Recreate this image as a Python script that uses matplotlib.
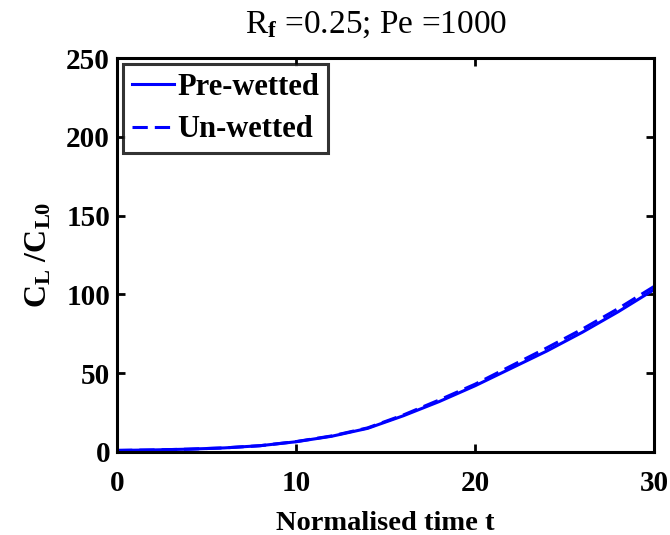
import matplotlib
matplotlib.use("Agg")
import matplotlib.pyplot as plt

plt.rcParams['font.family'] = ['Liberation Serif', 'DejaVu Serif']
plt.rcParams['mathtext.fontset'] = 'custom'
plt.rcParams['mathtext.rm'] = 'Liberation Serif'
plt.rcParams['mathtext.bf'] = 'Liberation Serif:bold'
plt.rcParams['mathtext.it'] = 'Liberation Serif:italic'

t = [0, 2, 4, 6, 8, 10, 12, 14, 16, 18, 20, 22, 24, 26, 28, 30]
pre_wetted = [1, 1.3, 1.8, 2.6, 4, 6.5, 10, 15, 23, 32, 42, 53, 64, 76, 89, 103]
un_wetted = [1, 1.3, 1.8, 2.6, 4, 6.6, 10.2, 15.3, 23.5, 33, 43, 54.5, 66, 78, 91, 105]

xticks = [0, 10, 20, 30]
yticks = [0, 50, 100, 150, 200, 250]

fig = plt.figure(figsize=(6.7, 5.35), dpi=100)
ax = fig.add_axes([117 / 670, 1 - 452 / 535, (654 - 117) / 670, (452 - 58) / 535])

ax.plot(t, pre_wetted, color='#0000ff', lw=2.2, ls='-', label='Pre-wetted')
ax.plot(t, un_wetted, color='#0000ff', lw=2.2, ls=(0, (5, 2.3)), label='Un-wetted')

ax.set_xlim(0, 30)
ax.set_ylim(0, 250)
ax.set_xticks(xticks)
ax.set_yticks(yticks)
ax.tick_params(direction='in', top=True, right=True, length=6, width=2,
               labelsize=21)
ax.tick_params(axis='x', pad=13)
ax.tick_params(axis='y', pad=5)
for lab in ax.get_xticklabels() + ax.get_yticklabels():
    lab.set_fontweight('bold')
for s in ax.spines.values():
    s.set_linewidth(2.2)

ax.set_xlabel('Normalised time t', fontsize=20.5, fontweight='bold', labelpad=10)
ax.set_ylabel(r'$\mathbf{C_L\ /C_{L0}}$', fontsize=23, labelpad=9)
ax.set_title(r'R$_\mathbf{f}$ =0.25; Pe =1000', fontsize=24, pad=18, x=0.482)

leg = ax.legend(loc='upper left', prop={'weight': 'bold', 'size': 22},
                frameon=True, fancybox=False, edgecolor='black',
                handlelength=1.37, handletextpad=0.12, borderpad=0.28,
                labelspacing=0.45, borderaxespad=0.2)
leg.get_frame().set_linewidth(2.2)

fig.savefig('out.png', dpi=100)
